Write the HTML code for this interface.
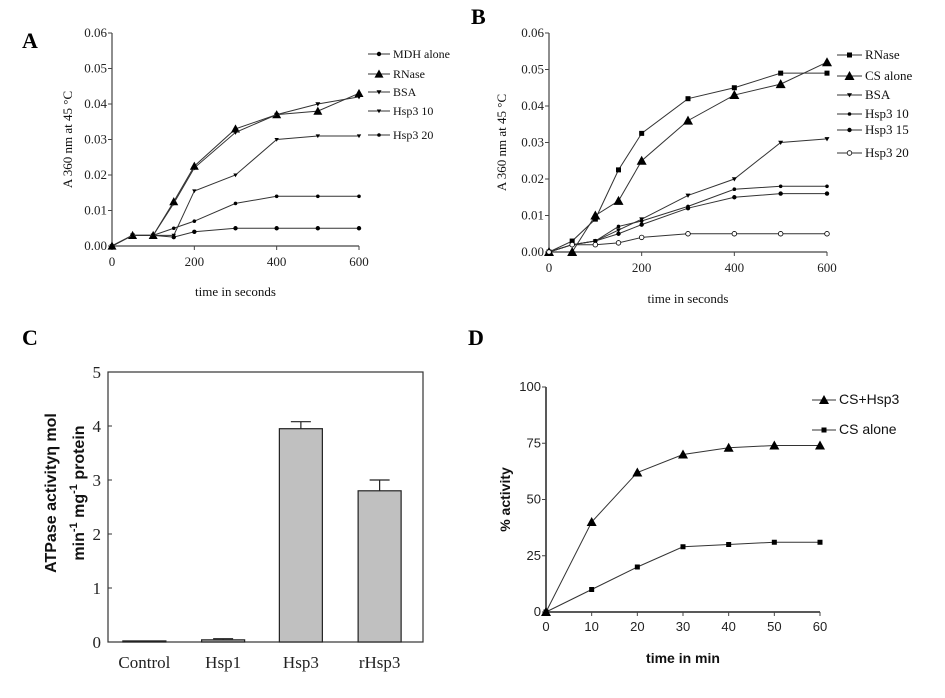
<!DOCTYPE html>
<html><head><meta charset="utf-8"><style>
body{margin:0;background:#fff;}
svg{display:block;}
.serif{font-family:"Liberation Serif",serif;}
.sans{font-family:"Liberation Sans",sans-serif;}
</style></head><body>
<svg id="fig" width="945" height="698" viewBox="0 0 945 698">
<text x="22" y="48" class="serif" font-size="22" font-weight="bold">A</text>
<text x="471" y="24" class="serif" font-size="22" font-weight="bold">B</text>
<text x="22" y="345" class="serif" font-size="22" font-weight="bold">C</text>
<text x="468" y="345" class="serif" font-size="22" font-weight="bold">D</text>
</svg>
<script>
const NS='http://www.w3.org/2000/svg';
const svg=document.getElementById('fig');
function mk(tag,attrs,parent){const e=document.createElementNS(NS,tag);for(const k in attrs)e.setAttribute(k,attrs[k]);(parent||svg).appendChild(e);return e;}
function txt(s,attrs,parent){const e=mk('text',attrs,parent);e.textContent=s;return e;}

// ---- Panel A data ----
const aTimes=[0,50,100,150,200,300,400,500,600];
const aMDH=[0,0.003,0.003,0.0025,0.004,0.005,0.005,0.005,0.005];
const aRNase=[0,0.003,0.003,0.0125,0.0225,0.033,0.037,0.038,0.043];
const aBSA=[0,0.003,0.003,0.012,0.022,0.032,0.037,0.040,0.042];
const aHsp10=[0,0.003,0.003,0.003,0.0155,0.020,0.030,0.031,0.031];
const aHsp20=[0,0.003,0.003,0.005,0.007,0.012,0.014,0.014,0.014];
const aYTicks=['0.00','0.01','0.02','0.03','0.04','0.05','0.06'];
const aXTicks=['0','200','400','600'];
const aLegend=['MDH alone','RNase','BSA','Hsp3 10','Hsp3 20'];

// ---- Panel B data ----
const bTimes=[0,50,100,150,200,300,400,500,600];
const bRNase=[0,0.003,0.009,0.0225,0.0325,0.042,0.045,0.049,0.049];
const bCS=[0,0,0.010,0.014,0.025,0.036,0.043,0.046,0.052];
const bBSA=[0,0.002,0.003,0.006,0.009,0.0155,0.020,0.030,0.031];
const bHsp10=[0,0.002,0.003,0.007,0.0085,0.0125,0.0172,0.018,0.018];
const bHsp15=[0,0.002,0.003,0.005,0.0075,0.012,0.015,0.016,0.016];
const bHsp20=[0,0.002,0.002,0.0025,0.004,0.005,0.005,0.005,0.005];
const bYTicks=['0.00','0.01','0.02','0.03','0.04','0.05','0.06'];
const bXTicks=['0','200','400','600'];
const bLegend=['RNase','CS alone','BSA','Hsp3 10','Hsp3 15','Hsp3 20'];

// ---- Panel C data ----
const cCats=['Control','Hsp1','Hsp3','rHsp3'];
const cVals=[0.02,0.04,3.95,2.8];
const cErr=[0,0.02,0.13,0.2];
const cYTicks=['0','1','2','3','4','5'];

// ---- Panel D data ----
const dTimes=[0,10,20,30,40,50,60];
const dCSHsp3=[0,40,62,70,73,74,74];
const dCSAlone=[0,10,20,29,30,31,31];
const dYTicks=['0','25','50','75','100'];
const dXTicks=['0','10','20','30','40','50','60'];
const dLegend=['CS+Hsp3','CS alone'];

function marker(g,type,x,y,s,name){
  let e;
  if(type==='tri'){e=mk('polygon',{points:`${x},${y-s} ${x-s},${y+s*0.8} ${x+s},${y+s*0.8}`,fill:'#000'},g);}
  else if(type==='sq'){e=mk('rect',{x:x-s,y:y-s,width:2*s,height:2*s,fill:'#000'},g);}
  else if(type==='open'){e=mk('circle',{cx:x,cy:y,r:s,fill:'#fff',stroke:'#000','stroke-width':0.8},g);}
  else if(type==='dtri'){e=mk('polygon',{points:`${x-s},${y-s*0.7} ${x+s},${y-s*0.7} ${x},${y+s}`,fill:'#000'},g);}
  else {e=mk('circle',{cx:x,cy:y,r:s,fill:'#000'},g);}
  
  
}

function lineChart(cfg){
  const g=mk('g',{});
  
  
  const sx=v=>cfg.x0+(v-cfg.xmin)/(cfg.xmax-cfg.xmin)*(cfg.x1-cfg.x0);
  const sy=v=>cfg.y0-(v-cfg.ymin)/(cfg.ymax-cfg.ymin)*(cfg.y0-cfg.y1);
  const ax=mk('path',{d:`M${cfg.x0},${cfg.y1} V${cfg.y0} H${cfg.x1}`,fill:'none',stroke:cfg.axisColor||'#444','stroke-width':cfg.axisW||1.2},g);
  
  
  cfg.yTicks.forEach((t,i)=>{
    const v=cfg.ymin+i*(cfg.ymax-cfg.ymin)/(cfg.yTicks.length-1);
    const y=sy(v);
    mk('line',{x1:cfg.x0-4,x2:cfg.x0,y1:y,y2:y,stroke:'#444'},g);
    const tl=txt(t,{x:cfg.x0-5,y:y+4,'text-anchor':'end','font-size':cfg.tickSize,class:cfg.font,fill:'#222'},g);
    
    
  });
  cfg.xTicks.forEach((t,i)=>{
    const v=cfg.xmin+i*(cfg.xmax-cfg.xmin)/(cfg.xTicks.length-1);
    const x=sx(v);
    mk('line',{x1:x,x2:x,y1:cfg.y0,y2:cfg.y0+4,stroke:'#444'},g);
    const tl=txt(t,{x:x,y:cfg.y0+cfg.xTickDy,'text-anchor':'middle','font-size':cfg.tickSize,class:cfg.font,fill:'#222'},g);
    
    
  });
  cfg.series.forEach((s,si)=>{
    const pts=cfg.xs.map((xv,i)=>`${sx(xv)},${sy(s.vals[i])}`).join(' ');
    const pl=mk('polyline',{points:pts,fill:'none',stroke:'#333','stroke-width':1},g);
    
    
    cfg.xs.forEach((xv,i)=>marker(g,s.m,sx(xv),sy(s.vals[i]),s.ms,'point-'+s.key));
    if(s.label){
      const ly=cfg.legY[si];
      mk('line',{x1:cfg.legX,x2:cfg.legX+cfg.legW,y1:ly,y2:ly,stroke:'#333'},g);
      marker(g,s.m,cfg.legX+cfg.legW/2,ly,s.ms,'legend-marker-'+s.key);
      const lt=txt(s.label,{x:cfg.legX+cfg.legW+3,y:ly+4,'font-size':cfg.legSize,class:cfg.font,fill:'#111'},g);
      
      
    }
  });
  const yt=txt(cfg.yTitle,{x:0,y:0,transform:`translate(${cfg.yTitleX},${(cfg.y0+cfg.y1)/2}) rotate(-90)`,'text-anchor':'middle','font-size':cfg.titleSize,class:cfg.font,'font-weight':cfg.titleWeight||'normal',fill:'#111'},g);
  
  
  const xt=txt(cfg.xTitle,{x:(cfg.x0+cfg.x1)/2,y:cfg.xTitleY,'text-anchor':'middle','font-size':cfg.titleSize,class:cfg.font,'font-weight':cfg.titleWeight||'normal',fill:'#111'},g);
  
  
}

lineChart({name:'panel-a-chart',x0:112,x1:359,y0:246,y1:33,xmin:0,xmax:600,ymin:0,ymax:0.06,
  xs:aTimes,yTicks:aYTicks,xTicks:aXTicks,tickSize:13,font:'serif',xTickDy:20,
  series:[{key:'mdh',vals:aMDH,m:'dot',ms:2.2,label:aLegend[0]},{key:'rnase',vals:aRNase,m:'tri',ms:4.5,label:aLegend[1]},
    {key:'bsa',vals:aBSA,m:'dtri',ms:2.5,label:aLegend[2]},{key:'hsp10',vals:aHsp10,m:'dtri',ms:2.2,label:aLegend[3]},
    {key:'hsp20',vals:aHsp20,m:'dot',ms:1.8,label:aLegend[4]}],
  legX:368,legW:22,legY:[54,74,92,111,135],legSize:12,
  yTitle:'A 360 nm at 45 °C',yTitleX:72,xTitle:'time in seconds',xTitleY:296,titleSize:13});

lineChart({name:'panel-b-chart',x0:549,x1:827,y0:252,y1:33,xmin:0,xmax:600,ymin:0,ymax:0.06,
  xs:bTimes,yTicks:bYTicks,xTicks:bXTicks,tickSize:13,font:'serif',xTickDy:20,
  series:[{key:'rnase',vals:bRNase,m:'sq',ms:2.5,label:bLegend[0]},{key:'cs',vals:bCS,m:'tri',ms:5,label:bLegend[1]},
    {key:'bsa',vals:bBSA,m:'dtri',ms:2.5,label:bLegend[2]},{key:'hsp10',vals:bHsp10,m:'dot',ms:1.8,label:bLegend[3]},
    {key:'hsp15',vals:bHsp15,m:'dot',ms:2.2,label:bLegend[4]},{key:'hsp20',vals:bHsp20,m:'open',ms:2.3,label:bLegend[5]}],
  legX:837,legW:25,legY:[55,76,95,114,130,153],legSize:13,
  yTitle:'A 360 nm at 45 °C',yTitleX:506,xTitle:'time in seconds',xTitleY:303,titleSize:13});

lineChart({name:'panel-d-chart',x0:546,x1:820,y0:612,y1:387,xmin:0,xmax:60,ymin:0,ymax:100,
  xs:dTimes,yTicks:dYTicks,xTicks:dXTicks,tickSize:13,font:'sans',xTickDy:19,axisColor:'#222',axisW:1.5,
  series:[{key:'cs-hsp3',vals:dCSHsp3,m:'tri',ms:5,label:dLegend[0]},{key:'cs-alone',vals:dCSAlone,m:'sq',ms:2.5,label:dLegend[1]}],
  legX:812,legW:24,legY:[400,430],legSize:14,
  yTitle:'% activity',yTitleX:510,xTitle:'time in min',xTitleY:663,titleSize:14,titleWeight:'bold'});

// Panel C bar chart
(function(){
  const g=mk('g',{});
  
  
  const x0=108,x1=423,y0=642,y1=372,ymax=5;
  const sy=v=>y0-v/ymax*(y0-y1);
  const box=mk('rect',{x:x0,y:y1,width:x1-x0,height:y0-y1,fill:'none',stroke:'#333','stroke-width':1.2},g);
  
  
  cYTicks.forEach((t,i)=>{
    const y=sy(i*ymax/(cYTicks.length-1));
    mk('line',{x1:x0,x2:x0+4,y1:y,y2:y,stroke:'#333'},g);
    const tl=txt(t,{x:x0-7,y:y+6,'text-anchor':'end','font-size':17,class:'serif',fill:'#222'},g);
    
    
  });
  const step=(x1-x0)/cCats.length;
  const bw=43;
  cCats.forEach((c,i)=>{
    const cx=x0+step*(i+0.5)-(i<2?3:4);
    const y=sy(cVals[i]);
    const b=mk('rect',{x:cx-bw/2,y:y,width:bw,height:y0-y,fill:'#c0c0c0',stroke:'#222','stroke-width':1.2},g);
    
    
    if(cErr[i]>0){
      const ey=sy(cVals[i]+cErr[i]);
      const e=mk('path',{d:`M${cx},${y} V${ey} M${cx-10},${ey} H${cx+10}`,stroke:'#222','stroke-width':1.2,fill:'none'},g);
      
      
    }
    const tl=txt(c,{x:cx,y:668,'text-anchor':'middle','font-size':17,class:'serif',fill:'#222'},g);
    
    
  });
  const t1=txt('ATPase activityη mol',{x:0,y:0,transform:'translate(56,493) rotate(-90)','text-anchor':'middle','font-size':16,class:'sans','font-weight':'bold',fill:'#111'},g);
  
  
  const t2=mk('text',{x:0,y:0,transform:'translate(84,493) rotate(-90)','text-anchor':'middle','font-size':16,class:'sans','font-weight':'bold',fill:'#111'},g);
  t2.innerHTML='min<tspan dy="-7" font-size="11">-1</tspan><tspan dy="7"> mg</tspan><tspan dy="-7" font-size="11">-1</tspan><tspan dy="7"> protein</tspan>';
  
  
})();
</script>
</body></html>
